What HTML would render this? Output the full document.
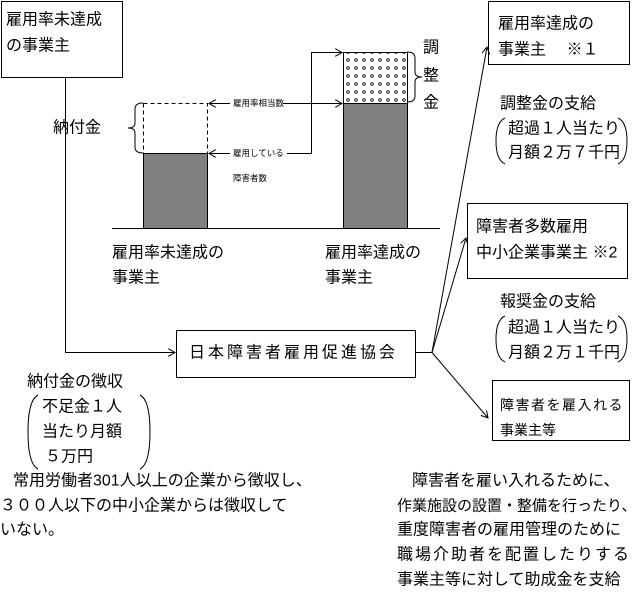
<!DOCTYPE html>
<html><head><meta charset="utf-8"><style>
html,body{margin:0;padding:0;background:#fff;}
svg{display:block;font-family:"Liberation Sans","Noto Sans CJK JP",sans-serif;}
text{font-size:16px;fill:#000;dominant-baseline:central;}
.s{font-size:8.5px;}
</style></head><body>
<svg width="634" height="592" viewBox="0 0 634 592" xmlns="http://www.w3.org/2000/svg">
<defs>
<marker id="a" markerWidth="8" markerHeight="8" refX="7" refY="4" orient="auto" markerUnits="userSpaceOnUse"><path d="M0,0 L7,4 L0,8" fill="none" stroke="#000" stroke-width="1"/></marker>
<pattern id="dots" width="8" height="8" patternUnits="userSpaceOnUse"><circle cx="4" cy="4" r="1.3" fill="none" stroke="#000" stroke-width="0.8"/></pattern>
</defs>
<g fill="none" stroke="#000" stroke-width="1">
<rect x="1.5" y="1.5" width="121" height="76"/>
<rect x="488.5" y="1.5" width="141" height="63"/>
<rect x="467.5" y="203.5" width="160" height="75"/>
<rect x="176.5" y="330.5" width="239" height="47"/>
<rect x="492.5" y="380.5" width="137" height="60"/>
<line x1="112" y1="228.5" x2="440" y2="228.5"/>
<polyline points="65.5,78 65.5,352.5 175,352.5" marker-end="url(#a)"/>
<line x1="416" y1="352.5" x2="432" y2="352.5"/>
<line x1="432" y1="352.5" x2="487" y2="47" marker-end="url(#a)"/>
<line x1="432" y1="352.5" x2="466" y2="238" marker-end="url(#a)"/>
<line x1="432" y1="352.5" x2="488" y2="418" marker-end="url(#a)"/>
<rect x="143.5" y="103.5" width="64" height="50" stroke-dasharray="4,3"/>
<line x1="230" y1="103.5" x2="209" y2="103.5" marker-end="url(#a)"/>
<line x1="283" y1="103.5" x2="342" y2="103.5" marker-end="url(#a)"/>
<line x1="230" y1="153.5" x2="209" y2="153.5" marker-end="url(#a)"/>
<polyline points="287,153.5 311.5,153.5 311.5,52.5 342,52.5" marker-end="url(#a)"/>
<path d="M143,103 q-8,0 -8,6 v14 q0,5 -7,5 q7,0 7,5 v14 q0,6 8,6"/>
<path d="M407,52 q8,0 8,6 v14 q0,5 7,5 q-7,0 -7,5 v14 q0,6 -8,6"/>
<path d="M505,118 q-9,4 -9,23 q0,19 9,23"/>
<path d="M618,118 q9,4 9,23 q0,19 -9,23"/>
<path d="M505,316 q-9,4 -9,23 q0,19 9,23"/>
<path d="M618,316 q9,4 9,23 q0,19 -9,23"/>
<path d="M38,395 q-10,5 -10,37 q0,32 10,37"/>
<path d="M140,395 q10,5 10,37 q0,32 -10,37"/>
</g>
<rect x="143.5" y="153.5" width="64" height="75" fill="#808080" stroke="#000"/>
<rect x="343.5" y="103.5" width="64" height="125" fill="#808080" stroke="#000"/>
<rect x="343.5" y="52.5" width="64" height="51" fill="url(#dots)" stroke="#000"/>
<text x="6" y="20">雇用率未達成</text>
<text x="6" y="46">の事業主</text>
<text x="498" y="24">雇用率達成の</text>
<text x="498" y="50">事業主　 ※１</text>
<text x="53" y="128">納付金</text>
<text x="423" y="48">調</text>
<text x="423" y="76">整</text>
<text x="423" y="103">金</text>
<text class="s" x="233" y="103">雇用率相当数</text>
<text class="s" x="233" y="153">雇用している</text>
<text class="s" x="233" y="178">障害者数</text>
<text x="112" y="253">雇用率未達成の</text>
<text x="112" y="278">事業主</text>
<text x="325" y="253">雇用率達成の</text>
<text x="325" y="278">事業主</text>
<text x="500" y="104">調整金の支給</text>
<text x="508" y="129">超過１人当たり</text>
<text x="508" y="153">月額２万７千円</text>
<text x="476" y="227">障害者多数雇用</text>
<text x="476" y="253">中小企業事業主 ※2</text>
<text x="500" y="302">報奨金の支給</text>
<text x="508" y="328">超過１人当たり</text>
<text x="508" y="353">月額２万１千円</text>
<text x="189" y="353" style="letter-spacing:3px">日本障害者雇用促進協会</text>
<text x="500" y="405" style="font-size:14px;letter-spacing:1.5px">障害者を雇入れる</text>
<text x="500" y="430" style="font-size:14px">事業主等</text>
<text x="27" y="382">納付金の徴収</text>
<text x="42" y="407">不足金１人</text>
<text x="42" y="432">当たり月額</text>
<text x="45" y="457">５万円</text>
<text x="13" y="481">常用労働者301人以上の企業から徴収し、</text>
<text x="0" y="506">３００人以下の中小企業からは徴収して</text>
<text x="0" y="530">いない。</text>
<text x="412" y="481">障害者を雇い入れるために、</text>
<text x="397" y="506" style="font-size:15px">作業施設の設置・整備を行ったり、</text>
<text x="397" y="530">重度障害者の雇用管理のために</text>
<text x="397" y="555" style="letter-spacing:2px">職場介助者を配置したりする</text>
<text x="397" y="580">事業主等に対して助成金を支給</text>
</svg>
</body></html>
